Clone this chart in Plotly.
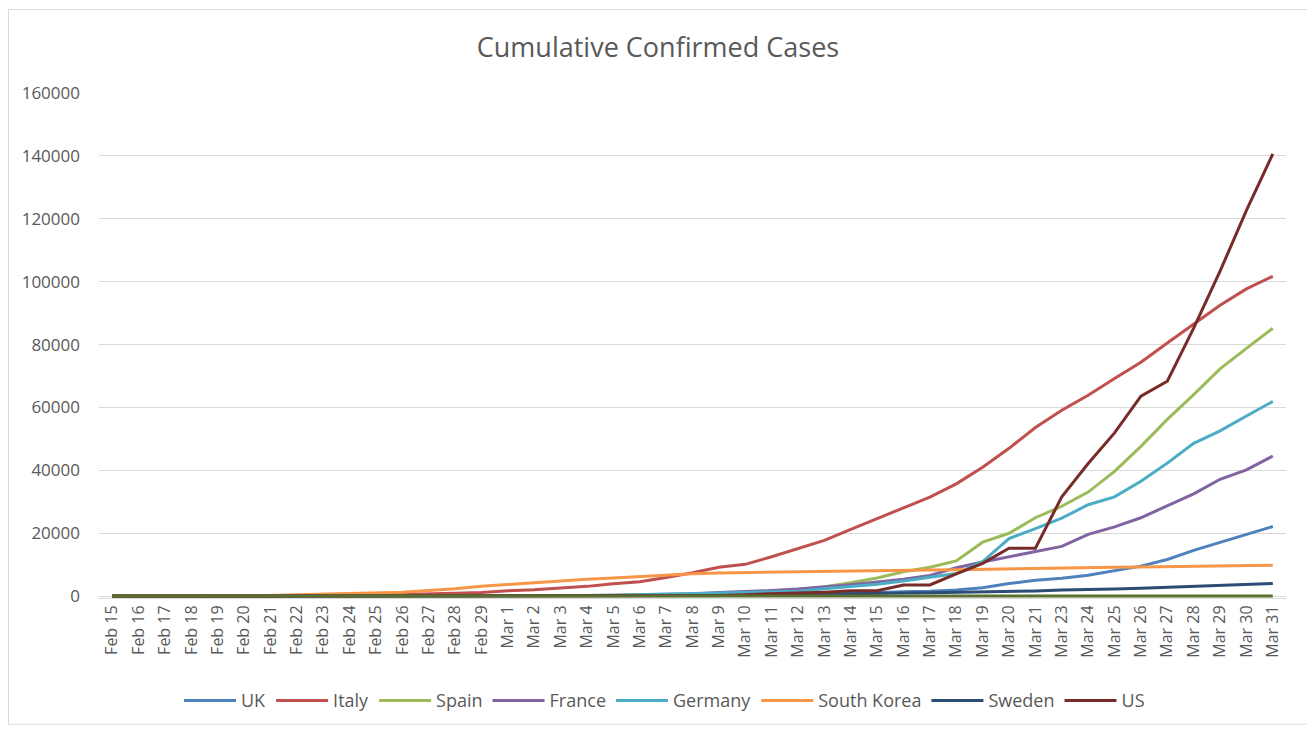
import plotly.graph_objects as go

dates = [f"Feb {d}" for d in range(15, 30)] + [f"Mar {d}" for d in range(1, 22)] + [f"Mar {d}" for d in range(23, 32)]

uk = [9, 9, 9, 9, 9, 9, 9, 9, 9, 9, 9, 13, 15, 16, 20,
      23, 36, 40, 53, 87, 116, 164, 206, 273, 321, 373, 459, 594, 801, 1144, 1395, 1543, 1954, 2630, 3983, 5018,
      5687, 6654, 8081, 9533, 11662, 14547, 17093, 19526, 22145]
italy = [3, 3, 3, 3, 3, 3, 20, 80, 150, 230, 320, 450, 650, 890, 1130,
         1700, 2000, 2500, 3100, 3900, 4600, 5900, 7400, 9200, 10100, 12500, 15100, 17700, 21200, 24700, 27980, 31500, 35700, 41000, 47000, 53600,
         59100, 63900, 69200, 74400, 80500, 86500, 92500, 97700, 101700]
spain = [2, 2, 2, 2, 2, 2, 2, 2, 2, 2, 2, 2, 12, 15, 25,
         32, 45, 114, 150, 198, 257, 365, 374, 589, 1024, 1639, 2140, 3004, 4231, 5753, 7753, 9191, 11178, 17147, 19980, 24926,
         28572, 33089, 39673, 47610, 56188, 64059, 72248, 78797, 85195]
france = [12, 12, 12, 12, 12, 12, 12, 12, 12, 12, 12, 14, 18, 38, 57,
          100, 130, 191, 212, 282, 420, 613, 706, 1116, 1402, 1774, 2269, 2860, 3640, 4469, 5380, 6573, 9043, 10871, 12475, 14296,
          15821, 19615, 22025, 24920, 28786, 32542, 37145, 40174, 44550]
germany = [16, 16, 16, 16, 16, 16, 16, 16, 16, 16, 16, 16, 18, 26, 48,
           57, 129, 157, 196, 262, 534, 639, 795, 1040, 1112, 1296, 1567, 2369, 3062, 3795, 4838, 6012, 7156, 10999, 18323, 21463,
           24774, 29056, 31554, 36508, 42288, 48582, 52547, 57298, 61913]
south_korea = [28, 29, 30, 31, 50, 100, 200, 430, 600, 830, 980, 1260, 1770, 2340, 3150,
               3740, 4210, 4810, 5330, 5770, 6280, 6770, 7130, 7380, 7510, 7760, 7870, 7980, 8090, 8160, 8240, 8320, 8410, 8570, 8650, 8800,
               8960, 9040, 9140, 9240, 9330, 9480, 9580, 9660, 9790]
sweden = [1, 1, 1, 1, 1, 1, 1, 1, 1, 1, 1, 1, 1, 2, 11,
          12, 13, 14, 30, 52, 60, 101, 137, 161, 203, 326, 500, 687, 814, 924, 992, 1059, 1167, 1279, 1423, 1639,
          1906, 2016, 2272, 2510, 2806, 3069, 3447, 3700, 4028]
us = [15, 15, 15, 15, 15, 15, 15, 35, 35, 53, 53, 53, 59, 60, 62,
      62, 62, 64, 108, 129, 148, 213, 213, 213, 472, 696, 987, 1264, 1678, 1678, 3503, 3536, 7087, 10442, 15219, 15219,
      31573, 42164, 51914, 63570, 68334, 85228, 103321, 122653, 140640]
baseline = [0] * len(dates)

series = [
    ("UK", uk, "#4F81BD"),
    ("Italy", italy, "#C0504D"),
    ("Spain", spain, "#9BBB59"),
    ("France", france, "#8064A2"),
    ("Germany", germany, "#4BACC6"),
    ("South Korea", south_korea, "#F79646"),
    ("Sweden", sweden, "#2C4D75"),
    ("US", us, "#772C2A"),
]

fig = go.Figure()
for name, vals, col in series:
    fig.add_trace(go.Scatter(x=dates, y=vals, name=name, mode="lines",
                             line=dict(color=col, width=3)))
fig.add_trace(go.Scatter(x=dates, y=baseline, name="", mode="lines", showlegend=False,
                         line=dict(color="#5A7030", width=3)))

W, H = 1307, 723
L, T, PW, PH = 91, 85, 1187, 508
YMIN = -600

font_family = "Open Sans, Noto Sans, sans-serif"
fig.update_layout(
    width=W, height=H,
    paper_bgcolor="white", plot_bgcolor="white",
    margin=dict(l=L, r=W - L - PW, t=T, b=H - T - PH),
    title=dict(text="Cumulative Confirmed Cases", x=650 / W, xanchor="center", y=1 - 40 / H, yanchor="middle",
               font=dict(family=font_family, size=27, color="#595959")),
    font=dict(family=font_family, color="#595959"),
    showlegend=True,
    legend=dict(orientation="h", x=0.4764, xanchor="center", y=-0.2035, yanchor="middle",
                font=dict(size=18, color="#595959"), itemwidth=52, tracegroupgap=0),
    xaxis=dict(type="category", range=[-0.5, len(dates) - 0.5], tickangle=-90,
               tickfont=dict(size=16, color="#595959"), showgrid=False,
               showline=True, linecolor="#D9D9D9", linewidth=1, ticks="", zeroline=False),
    yaxis=dict(range=[YMIN, 160000], tickvals=list(range(0, 160001, 20000)), tickformat="d", showgrid=True,
               gridcolor="#D9D9D9", gridwidth=1, zeroline=False, showline=False, ticks="",
               tickfont=dict(size=17, color="#595959"), ticklabelstandoff=18),
)

fig.add_shape(type="rect", xref="paper", yref="paper",
              x0=(0.5 - L) / PW, x1=(1302 - L) / PW,
              y0=(T + PH - 720) / PH, y1=(T + PH - 1) / PH,
              line=dict(color="#D9D9D9", width=1), fillcolor="rgba(0,0,0,0)", layer="below")

fig.write_html("out.html")
